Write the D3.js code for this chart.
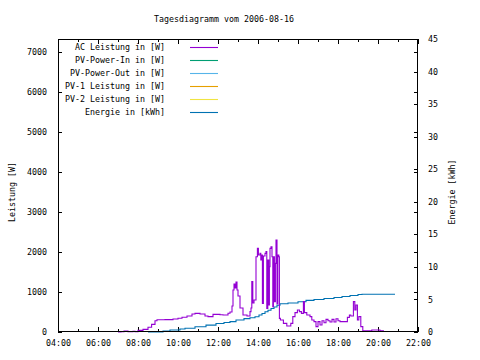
<!DOCTYPE html>
<html><head><meta charset="utf-8">
<script src="https://cdn.jsdelivr.net/npm/d3@7"></script>
<style>
html,body{margin:0;padding:0;background:#fff;}
svg{display:block;}
text{font-family:"DejaVu Sans Mono",monospace;font-size:8.3px;fill:#000;}
</style></head><body>
<svg id="c" width="480" height="360"></svg>
<script>
const title = "Tagesdiagramm vom 2006-08-16";
const xTickLabels = ["04:00","06:00","08:00","10:00","12:00","14:00","16:00","18:00","20:00","22:00"];
const xTickHours = [4,6,8,10,12,14,16,18,20,22];
const yTicks = [0,1000,2000,3000,4000,5000,6000,7000];
const y2Ticks = [0,5,10,15,20,25,30,35,40,45];
const legendNames = ["AC Leistung in [W]","PV-Power-In in [W]","PV-Power-Out in [W]","PV-1 Leistung in [W]","PV-2 Leistung in [W]","Energie in [kWh]"];
const legendColors = ["#9400D3","#009E73","#56B4E9","#E69F00","#F0E442","#0072B2"];

// AC Leistung: time (decimal hours), watts
const acTime = [7.00,7.15,7.30,7.45,7.50,7.65,7.75,7.85,8.00,8.25,8.50,8.68,8.85,8.95,9.35,9.75,10.00,10.20,10.45,10.70,10.85,11.10,11.35,11.50,11.75,12.10,12.25,12.50,12.60,12.70,12.75,12.80,12.85,12.90,12.95,13.00,13.10,13.25,13.45,13.60,13.65,13.69,13.74,13.80,13.90,13.97,14.02,14.10,14.14,14.19,14.22,14.27,14.35,14.40,14.44,14.49,14.54,14.57,14.60,14.65,14.70,14.74,14.77,14.82,14.87,14.90,14.95,14.99,15.04,15.07,15.12,15.27,15.44,15.57,15.64,15.74,15.85,15.97,16.07,16.17,16.27,16.32,16.44,16.60,16.69,16.80,16.90,17.00,17.10,17.20,17.30,17.40,17.50,17.60,17.70,17.80,17.90,18.00,18.10,18.35,18.47,18.57,18.64,18.77,18.84,18.90,18.97,19.04,19.14,19.24,19.44,19.69,19.94,20.10,20.27];
const acWatt = [0,10,25,25,5,10,20,10,40,65,120,190,280,305,310,325,345,370,400,450,465,450,400,385,440,430,425,470,500,650,1050,1200,1100,1250,1050,900,600,425,400,510,600,1260,725,800,1880,2090,1925,1965,1800,1925,715,1900,1965,2010,590,1800,675,1630,2090,2130,1880,630,1880,760,1715,2300,700,1925,1880,340,300,215,150,150,215,385,485,550,510,465,760,485,425,385,300,260,135,260,175,280,230,315,280,250,315,250,330,280,260,260,365,425,400,760,550,675,300,385,135,30,30,50,50,30,0];

// Energie: time (decimal hours), kWh
const enTime = [8.50,9.25,9.60,10.10,10.35,10.85,11.40,11.90,12.30,12.60,12.90,13.30,13.60,13.85,14.05,14.20,14.35,14.50,14.65,14.80,14.95,15.10,15.50,16.00,16.40,16.80,17.30,17.80,18.20,18.60,19.00,19.20,20.85];
const enKwh = [0,0.15,0.30,0.45,0.57,0.80,1.05,1.30,1.45,1.60,1.85,2.05,2.20,2.35,2.60,2.85,3.10,3.35,3.60,3.85,4.10,4.35,4.45,4.65,4.85,5.00,5.15,5.30,5.45,5.60,5.75,5.80,5.80];

const svg = d3.select("#c");
const L=58,R=418,T=39,B=332;
const x = d3.scaleLinear().domain([4,22]).range([L,R]);
const y = d3.scaleLinear().domain([0,7325]).range([B,T]);
const y2 = d3.scaleLinear().domain([0,45]).range([B,T]);

// title
svg.append("text").attr("x",224).attr("y",19).attr("text-anchor","middle").attr("dominant-baseline","middle").text(title);

const minorHours = d3.range(5,22,2);
function styleAxis(g){ g.select(".domain").remove(); g.selectAll("line").attr("stroke","#000").attr("shape-rendering","crispEdges"); g.selectAll("text").style("font-family","'DejaVu Sans Mono',monospace").style("font-size","8.3px"); }

// bottom axis
svg.append("g").attr("transform",`translate(0,${B})`)
  .call(d3.axisBottom(x).tickValues(xTickHours).tickFormat((d,i)=>xTickLabels[i]).tickSize(-5).tickPadding(8))
  .call(styleAxis);
svg.append("g").attr("transform",`translate(0,${B})`)
  .call(d3.axisBottom(x).tickValues(minorHours).tickFormat("").tickSize(-3))
  .call(styleAxis);
// top mirrored
svg.append("g").attr("transform",`translate(0,${T})`)
  .call(d3.axisTop(x).tickValues(xTickHours).tickFormat("").tickSize(-5))
  .call(styleAxis);
svg.append("g").attr("transform",`translate(0,${T})`)
  .call(d3.axisTop(x).tickValues(minorHours).tickFormat("").tickSize(-3))
  .call(styleAxis);
// left axis
svg.append("g").attr("transform",`translate(${L},0)`)
  .call(d3.axisLeft(y).tickValues(yTicks).tickFormat(d3.format("d")).tickSize(-4).tickPadding(11))
  .call(styleAxis);
// left ticks mirrored on right
svg.append("g").attr("transform",`translate(${R},0)`)
  .call(d3.axisRight(y).tickValues(yTicks).tickFormat("").tickSize(-4))
  .call(styleAxis);
// right axis
svg.append("g").attr("transform",`translate(${R},0)`)
  .call(d3.axisRight(y2).tickValues(y2Ticks).tickFormat(d3.format("d")).tickSize(-4).tickPadding(10))
  .call(styleAxis);

svg.selectAll("g.tick text").attr("fill","#000");

// axis labels
svg.append("text").attr("transform","translate(12,192) rotate(-90)").attr("text-anchor","middle").attr("dominant-baseline","middle").text("Leistung [W]");
svg.append("text").attr("transform","translate(452,192) rotate(-90)").attr("text-anchor","middle").attr("dominant-baseline","middle").text("Energie [kWh]");

// series
const acData = acTime.map((t,i)=>[t,acWatt[i]]);
const enData = enTime.map((t,i)=>[t,enKwh[i]]);
svg.append("path").datum(enData).attr("fill","none").attr("stroke",legendColors[5]).attr("stroke-width",1.1)
  .attr("d",d3.line().x(d=>x(d[0])).y(d=>y2(d[1])).curve(d3.curveStepAfter));
svg.append("path").datum(acData).attr("fill","none").attr("stroke",legendColors[0]).attr("stroke-width",1.1)
  .attr("d",d3.line().x(d=>x(d[0])).y(d=>y(d[1])).curve(d3.curveStepAfter));

// legend
const rowY = [47,60,73,86,99,112];
legendNames.forEach((n,i)=>{
  svg.append("text").attr("x",165).attr("y",rowY[i]).attr("text-anchor","end").attr("dominant-baseline","middle").text(n);
  svg.append("line").attr("x1",190).attr("x2",218).attr("y1",rowY[i]+0.5).attr("y2",rowY[i]+0.5).attr("stroke",legendColors[i]).attr("stroke-width",1.1);
});

// frame
svg.append("rect").attr("x",L+0.5).attr("y",T+0.5).attr("width",R-L-1).attr("height",B-T-1).attr("fill","none").attr("stroke","#000").attr("stroke-width",1).attr("shape-rendering","crispEdges");
</script>
</body></html>
